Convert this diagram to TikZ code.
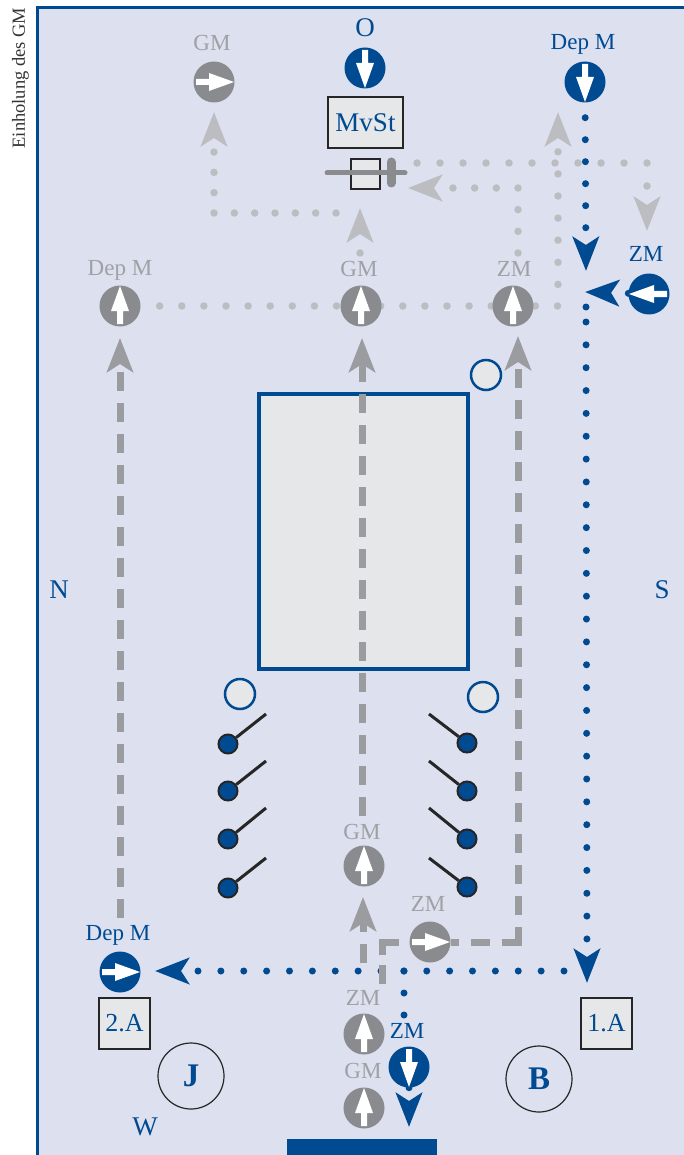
\documentclass[tikz,border=0pt]{standalone}
\usepackage{fontspec}
\setmainfont{Liberation Serif}
\usetikzlibrary{arrows.meta,backgrounds}
\definecolor{mvblue}{HTML}{004A92}
\definecolor{mvbg}{HTML}{DDE0EF}
\definecolor{mvbox}{HTML}{E6E7E9}
\definecolor{mvgray}{HTML}{898B8E}
\definecolor{mvdash}{HTML}{9A9C9F}
\definecolor{mvlight}{HTML}{BBBDC1}
\definecolor{mvlabel}{HTML}{9FA1A4}
\newcommand{\signal}[4]{%
  \node[sigdisc,fill=#3] (#1) at (#2) {};
  \fill[white,rotate around={#4:(#2)},shift={(#2)}]
    (0,-20) -- (9,5) -- (3,5) -- (3,18) -- (-3,18) -- (-3,5) -- (-9,5) -- cycle;
}
\tikzset{
  sigdisc/.style={circle,minimum size=41pt,inner sep=0pt},
  bluelabel/.style={text=mvblue,font=\fontsize{23}{23}\selectfont,inner sep=0pt},
  graylabel/.style={text=mvlabel,font=\fontsize{23}{23}\selectfont,inner sep=0pt},
  sidelabel/.style={text=mvblue,font=\fontsize{27}{27}\selectfont,inner sep=0pt},
  track/.style={circle,draw=mvblue,line width=2.5pt,fill=mvbox,minimum size=30pt,inner sep=0pt},
  lever/.style={circle,draw=black!85,line width=2pt,fill=mvblue,minimum size=19pt,inner sep=0pt},
  arm/.style={draw=black!85,line width=3pt},
  textbox/.style={rectangle,draw=black!85,line width=2.5pt,fill=mvbox,inner sep=0pt,text=mvblue,
    font=\fontsize{26}{26}\selectfont},
  station/.style={circle,draw=black!85,line width=1.2pt,minimum size=66pt,inner sep=0pt,text=mvblue,
    font=\fontsize{33}{33}\selectfont\bfseries},
  head/.style={-{Stealth[length=34pt,width=26pt,inset=8pt]}},
  dotblue/.style={head,draw=mvblue,line width=7pt,line cap=round,dash pattern=on 0pt off 22pt},
  dotlight/.style={head,draw=mvlight,line width=7.5pt,line cap=round,dash pattern=on 0pt off 22pt},
  dashgray/.style={head,draw=mvdash,line width=7pt,dash pattern=on 19pt off 12pt}
}
\begin{document}
\begin{tikzpicture}[x=1pt,y=-1pt]
\useasboundingbox (0,0) rectangle (684,1155);

\node[rotate=90,text=black!80,font=\fontsize{18.5}{18.5}\selectfont,inner sep=0pt] (sidetext) at (20.5,78) {Einholung des GM};

\signal{gmN}{214,82}{mvgray}{-90}
\signal{sigO}{365,68}{mvblue}{180}
\signal{depS}{585,82}{mvblue}{180}
\signal{depN}{120,306}{mvgray}{0}
\signal{gmC}{361,306}{mvgray}{0}
\signal{zmC}{513,306}{mvgray}{0}
\signal{zmS}{649,294}{mvblue}{90}
\signal{gmL}{364,866}{mvgray}{0}
\signal{zmL}{430,942}{mvgray}{-90}
\signal{depW}{120,972}{mvblue}{-90}
\signal{zmW}{364,1034}{mvgray}{0}
\signal{zmB}{409,1067}{mvblue}{180}
\signal{gmW}{364,1108}{mvgray}{0}

\node[graylabel] (lgmN) at (212,43) {GM};
\node[sidelabel] (lO) at (365,28) {O};
\node[bluelabel] (ldepS) at (583,44) {Dep M};
\node[graylabel] (ldepN) at (120,270) {Dep M};
\node[graylabel] (lgmC) at (359,269) {GM};
\node[graylabel] (lzmC) at (514,269) {ZM};
\node[bluelabel] (lzmS) at (646,254) {ZM};
\node[graylabel] (lgmL) at (362,832) {GM};
\node[graylabel] (lzmL) at (428,904) {ZM};
\node[bluelabel] (ldepW) at (118,935) {Dep M};
\node[graylabel] (lzmW) at (363,998) {ZM};
\node[bluelabel] (lzmB) at (407,1031) {ZM};
\node[graylabel] (lgmW) at (363,1071) {GM};

\node[sidelabel] (lN) at (59,590) {N};
\node[sidelabel] (lS) at (662,590) {S};
\node[sidelabel] (lW) at (145,1127) {W};

\node[textbox,minimum width=75pt,minimum height=51pt] (mvst) at (365.5,122.5) {\fontsize{27}{27}\selectfont MvSt};
\node[textbox,minimum width=29pt,minimum height=30pt] (smallbox) at (365.5,174) {};
\node[textbox,minimum width=51pt,minimum height=51pt] (boxW) at (124.5,1023.5) {2.A};
\node[textbox,minimum width=51pt,minimum height=51pt] (boxE) at (606.5,1023.5) {1.A};

\coordinate (barW) at (327,173);
\coordinate (barE) at (405,173);
\coordinate (barT) at (391,162);
\coordinate (barB) at (391,183);
\draw[draw=mvgray,line width=5pt,line cap=round] (barW) -- (barE);
\draw[draw=mvgray,line width=9pt,line cap=round] (barT) -- (barB);

\node[track] (trackA) at (486,375) {};
\node[track] (trackB) at (240,694) {};
\node[track] (trackC) at (483,697) {};

\node[lever] (swW1) at (228,744) {};
\node[lever] (swW2) at (228,791) {};
\node[lever] (swW3) at (228,839) {};
\node[lever] (swW4) at (228,888) {};
\node[lever] (swE1) at (467,743) {};
\node[lever] (swE2) at (467,791) {};
\node[lever] (swE3) at (467,839) {};
\node[lever] (swE4) at (467,887) {};
\coordinate (armW1) at (266,714);
\coordinate (armW2) at (266,761);
\coordinate (armW3) at (266,808);
\coordinate (armW4) at (266,858);
\coordinate (armE1) at (429,714);
\coordinate (armE2) at (429,761);
\coordinate (armE3) at (429,808);
\coordinate (armE4) at (429,858);
\draw[arm] (swW1) -- (armW1);
\draw[arm] (swW2) -- (armW2);
\draw[arm] (swW3) -- (armW3);
\draw[arm] (swW4) -- (armW4);
\draw[arm] (swE1) -- (armE1);
\draw[arm] (swE2) -- (armE2);
\draw[arm] (swE3) -- (armE3);
\draw[arm] (swE4) -- (armE4);

\node[station] (stationJ) at (191,1076) {J};
\node[station] (stationB) at (539,1079) {B};

\coordinate (tipGmN) at (214,112);
\coordinate (cornerGmN) at (214,213);
\coordinate (tailGmN) at (336,213);
\coordinate (tailGmC) at (360,253);
\coordinate (tipGmC) at (360,208);
\coordinate (cornerRow) at (558,306);
\coordinate (tipRow) at (558,112);
\coordinate (tailZmC) at (518,253);
\coordinate (cornerZmC) at (518,188);
\coordinate (tipZmC) at (408,188);
\coordinate (tailTop) at (417,163);
\coordinate (cornerTop) at (647,163);
\coordinate (tipTop) at (647,231);

\coordinate (tipDepS) at (586,271);
\coordinate (tipZmS) at (585,292);
\coordinate (tailLong) at (586,307);
\coordinate (nextLong) at (586,310);
\coordinate (startLong) at (586,322);
\coordinate (tipLong) at (587,983);
\coordinate (tailWest) at (564,971);
\coordinate (tipWest) at (155,971);
\coordinate (tailBranch) at (404,971);
\coordinate (endBranch) at (404,1017);
\coordinate (tipZmB) at (409,1127);

\coordinate (tailDepN) at (120,918);
\coordinate (tipDepN) at (120,338);
\coordinate (tailDashC) at (362,816);
\coordinate (tipDashC) at (362,338);
\coordinate (tailGmL) at (363,963);
\coordinate (tipGmL) at (363,897);
\coordinate (tailZmL) at (382,984);
\coordinate (cornerZmL) at (382,942);
\coordinate (cornerEast) at (518,942);
\coordinate (startEast) at (518,945.5);
\coordinate (tipEast) at (518,336);

\begin{scope}[on background layer]
\fill[mvbg] (37,8) rectangle (684,1155);
\draw[mvblue,line width=3pt] (37,1155) -- (37,8) -- (684,8);
\node[rectangle,draw=mvblue,line width=4pt,fill=mvbox,minimum width=209pt,minimum height=275pt,inner sep=0pt] (mainbox) at (363.5,531.5) {};
\fill[mvblue] (287,1139) rectangle (437,1155);

\draw[dotlight,dash pattern=on 0pt off 20.33pt] (tailGmN) -- (cornerGmN) -- (tipGmN);
\draw[dotlight] (tailGmC) -- (tipGmC);
\draw[dotlight,dash pattern=on 0pt off 22.1pt,dash phase=3.1pt] (depN) -- (cornerRow) -- (tipRow);
\draw[dotlight,dash pattern=on 0pt off 21.67pt] (tailZmC) -- (cornerZmC) -- (tipZmC);
\draw[dotlight,dash pattern=on 0pt off 23pt] (tailTop) -- (cornerTop) -- (tipTop);

\draw[dotblue,dash phase=7pt] (depS) -- (tipDepS);
\draw[dotblue] (zmS) -- (tipZmS);
\draw[dotblue,-] (tailLong) -- (nextLong);
\draw[dotblue,dash pattern=on 0pt off 22.85pt] (startLong) -- (tipLong);
\draw[dotblue,dash pattern=on 0pt off 22.875pt] (tailWest) -- (tipWest);
\draw[dotblue,-] (tailBranch) -- (endBranch);
\draw[dotblue] (zmB) -- (tipZmB);

\draw[dashgray] (tailDepN) -- (tipDepN);
\draw[dashgray] (tailDashC) -- (tipDashC);
\draw[dashgray] (tailGmL) -- (tipGmL);
\draw[dashgray,-,dash pattern=on 19pt off 10pt on 30pt off 40pt] (tailZmL) -- (cornerZmL) -- (zmL);
\draw[dashgray,-,dash phase=11pt] (zmL) -- (cornerEast);
\draw[dashgray] (startEast) -- (tipEast);
\end{scope}
\end{tikzpicture}
\end{document}
